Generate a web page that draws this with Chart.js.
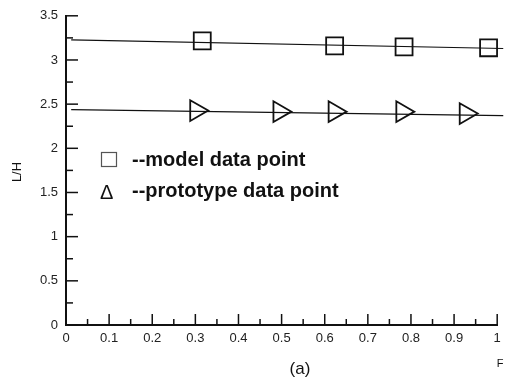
<!DOCTYPE html>
<html>
<head>
<meta charset="utf-8">
<script src="https://cdn.jsdelivr.net/npm/chart.js@4/dist/chart.umd.min.js"></script>
<style>
  html, body { margin: 0; padding: 0; background: #fff; }
  #wrap { width: 511px; height: 385px; position: relative; }
</style>
</head>
<body>
<div id="wrap"><canvas id="c" width="511" height="385"></canvas></div>
<script>
// ---- data ----
const xTickValues = [0, 0.1, 0.2, 0.3, 0.4, 0.5, 0.6, 0.7, 0.8, 0.9, 1];
const xTickLabels = ["0", "0.1", "0.2", "0.3", "0.4", "0.5", "0.6", "0.7", "0.8", "0.9", "1"];
const yTickValues = [0, 0.5, 1, 1.5, 2, 2.5, 3, 3.5];
const yTickLabels = ["0", "0.5", "1", "1.5", "2", "2.5", "3", "3.5"];

const modelF  = [0.316, 0.623, 0.784, 0.980];
const modelLH = [3.217, 3.160, 3.149, 3.138];
const protoF  = [0.302, 0.495, 0.623, 0.780, 0.927];
const protoLH = [2.427, 2.415, 2.415, 2.415, 2.393];

const modelFitF  = [0.012, 1.014];
const modelFitLH = [3.228, 3.130];
const protoFitF  = [0.012, 1.014];
const protoFitLH = [2.438, 2.370];

const legendLabels = ["--model data point", "--prototype data point"];
const xTitle = "F";
const yTitle = "L/H";
const caption = "(a)";

function pts(xs, ys) { return xs.map((x, i) => ({ x: x, y: ys[i] })); }

const FONT = "'Liberation Sans', Arial, Helvetica, sans-serif";

const decorPlugin = {
  id: 'decor',
  afterDraw(chart) {
    const ctx = chart.ctx;
    const xs = chart.scales.x, ys = chart.scales.y;
    const x0 = xs.getPixelForValue(0), y0 = ys.getPixelForValue(0);
    ctx.save();
    ctx.strokeStyle = '#111';
    ctx.lineWidth = 1.5;
    // inward ticks on x axis (major 0.1, minor 0.05)
    for (let i = 0; i <= 20; i++) {
      const v = i * 0.05;
      const px = xs.getPixelForValue(v);
      const len = (i % 2 === 0) ? 11 : 6;
      ctx.beginPath(); ctx.moveTo(px, y0); ctx.lineTo(px, y0 - len); ctx.stroke();
    }
    // inward ticks on y axis (major 0.5, minor 0.25)
    for (let i = 0; i <= 14; i++) {
      const v = i * 0.25;
      const py = ys.getPixelForValue(v);
      const len = (i % 2 === 0) ? 12 : 7;
      ctx.beginPath(); ctx.moveTo(x0, py); ctx.lineTo(x0 + len, py); ctx.stroke();
    }
    ctx.restore();

    // legend inside plot
    ctx.save();
    ctx.fillStyle = '#111';
    ctx.strokeStyle = '#555';
    ctx.lineWidth = 1.2;
    ctx.strokeRect(101.5, 152.5, 15, 14);
    ctx.font = "20px " + FONT;
    ctx.textBaseline = 'alphabetic';
    ctx.textAlign = 'left';
    ctx.fillText("\u0394", 100, 199);
    ctx.font = "bold 20px " + FONT;
    ctx.fillText(legendLabels[0], 132, 166);
    ctx.fillText(legendLabels[1], 132, 197);

    // axis titles and caption
    ctx.font = "11px " + FONT;
    ctx.textAlign = 'center';
    ctx.textBaseline = 'middle';
    ctx.fillText(xTitle, 500, 364);
    ctx.font = "17px " + FONT;
    ctx.fillText(caption, 300, 369);
    ctx.save();
    ctx.translate(17, 172);
    ctx.rotate(-Math.PI / 2);
    ctx.font = "13px " + FONT;
    ctx.fillText(yTitle, 0, 0);
    ctx.restore();
    ctx.restore();
  }
};

new Chart(document.getElementById('c'), {
  type: 'scatter',
  data: {
    datasets: [
      {
        label: 'model fit', type: 'line', data: pts(modelFitF, modelFitLH),
        borderColor: '#111', borderWidth: 1.2, pointRadius: 0, fill: false, clip: false, order: 2
      },
      {
        label: 'prototype fit', type: 'line', data: pts(protoFitF, protoFitLH),
        borderColor: '#111', borderWidth: 1.2, pointRadius: 0, fill: false, clip: false, order: 2
      },
      {
        label: legendLabels[0], data: pts(modelF, modelLH),
        pointStyle: 'rect', pointRadius: 12, pointBorderWidth: 1.8,
        pointBorderColor: '#111', pointBackgroundColor: 'rgba(255,255,255,0)', clip: false, order: 1
      },
      {
        label: legendLabels[1], data: pts(protoF, protoLH),
        pointStyle: 'triangle', rotation: 90, pointRadius: 12, pointBorderWidth: 1.8,
        pointBorderColor: '#111', pointBackgroundColor: 'rgba(255,255,255,0)', clip: false, order: 1
      }
    ]
  },
  options: {
    responsive: false,
    animation: false,
    events: [],
    layout: { padding: { top: 15, right: 6, left: 0, bottom: 0 } },
    plugins: { legend: { display: false }, tooltip: { enabled: false } },
    scales: {
      x: {
        type: 'linear', min: 0, max: 1,
        afterFit(s) { s.height = 60; },
        afterBuildTicks(s) { s.ticks = xTickValues.map(v => ({ value: v })); },
        grid: { display: false, drawTicks: false },
        border: { display: true, color: '#111', width: 2 },
        ticks: {
          padding: 6, color: '#222', autoSkip: false, maxRotation: 0,
          font: { family: FONT, size: 13 },
          callback: (v) => { const i = xTickValues.findIndex(t => Math.abs(t - v) < 1e-9); return i >= 0 ? xTickLabels[i] : ''; }
        }
      },
      y: {
        type: 'linear', min: 0, max: 3.5,
        afterFit(s) { s.width = 66; },
        afterBuildTicks(s) { s.ticks = yTickValues.map(v => ({ value: v })); },
        grid: { display: false, drawTicks: false },
        border: { display: true, color: '#111', width: 2 },
        ticks: {
          padding: 8, color: '#222', autoSkip: false,
          font: { family: FONT, size: 13 },
          callback: (v) => { const i = yTickValues.findIndex(t => Math.abs(t - v) < 1e-9); return i >= 0 ? yTickLabels[i] : ''; }
        }
      }
    }
  },
  plugins: [decorPlugin]
});
</script>
</body>
</html>
